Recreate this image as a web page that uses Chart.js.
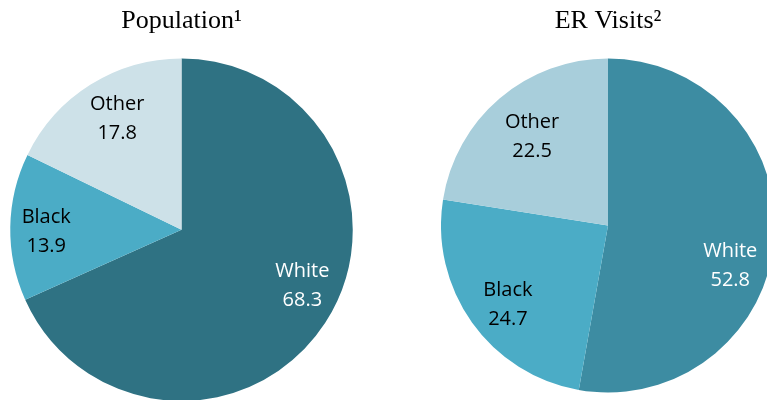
<!DOCTYPE html>
<html>
<head>
<meta charset="utf-8">
<script src="https://cdn.jsdelivr.net/npm/chart.js@4"></script>
<style>
  html, body { margin: 0; padding: 0; background: #fff; overflow: hidden; width: 767px; height: 400px; }
  .box { position: absolute; top: 0; }
</style>
</head>
<body>
<div class="box" style="left:0px;width:363px;height:401px"><canvas id="popChart" width="363" height="401"></canvas></div>
<div class="box" style="left:441px;width:334px;height:393px"><canvas id="erChart" width="334" height="393"></canvas></div>
<script>
var categories = ['White', 'Black', 'Other'];
var populationValues = [68.3, 13.9, 17.8];
var erVisitValues = [52.8, 24.7, 22.5];

var popColors = ['#2f7283', '#4bacc6', '#cde1e8'];
var erColors = ['#3d8ca2', '#4bacc6', '#a8cedb'];
var labelColors = ['#ffffff', '#000000', '#000000'];

// draws "Category / value" inside each slice, placed off the slice's own arc
var sliceLabels = {
  id: 'sliceLabels',
  afterDatasetsDraw: function(chart, args, opts) {
    var ctx = chart.ctx;
    var meta = chart.getDatasetMeta(0);
    var values = chart.data.datasets[0].data;
    ctx.save();
    ctx.font = '20px "Open Sans"';
    ctx.textAlign = 'center';
    ctx.textBaseline = 'middle';
    meta.data.forEach(function(arc, i) {
      var p = arc.getProps(['x', 'y', 'startAngle', 'endAngle', 'outerRadius'], true);
      var mid = (p.startAngle + p.endAngle) / 2 + opts.shift[i] * Math.PI / 180;
      var r = p.outerRadius * opts.radius[i];
      var cx = p.x + Math.cos(mid) * r;
      var cy = p.y + Math.sin(mid) * r;
      ctx.fillStyle = labelColors[i];
      ctx.fillText(chart.data.labels[i], cx, cy - 14);
      ctx.fillText(values[i].toFixed(1), cx, cy + 15);
    });
    ctx.restore();
  }
};

function makePie(id, title, values, colors, radius, shift, bottomPad) {
  return new Chart(document.getElementById(id).getContext('2d'), {
    type: 'pie',
    data: {
      labels: categories,
      datasets: [{
        data: values,
        backgroundColor: colors,
        borderWidth: 0
      }]
    },
    options: {
      responsive: false,
      animation: false,
      layout: { padding: 0 },
      plugins: {
        legend: { display: false },
        tooltip: { enabled: false },
        title: {
          display: true,
          text: title,
          color: '#000',
          font: { family: '"Liberation Serif"', size: 26, weight: 'normal' },
          padding: { top: 6, bottom: bottomPad }
        },
        sliceLabels: { radius: radius, shift: shift }
      }
    },
    plugins: [sliceLabels]
  });
}

makePie('popChart', 'Population\u00b9', populationValues, popColors, [0.776, 0.79, 0.75], [-8.3, -1.5, 2], 21.3);
makePie('erChart', 'ER Visits\u00b2', erVisitValues, erColors, [0.77, 0.763, 0.70], [13, -2.8, 0], 20.8);
</script>
</body>
</html>
